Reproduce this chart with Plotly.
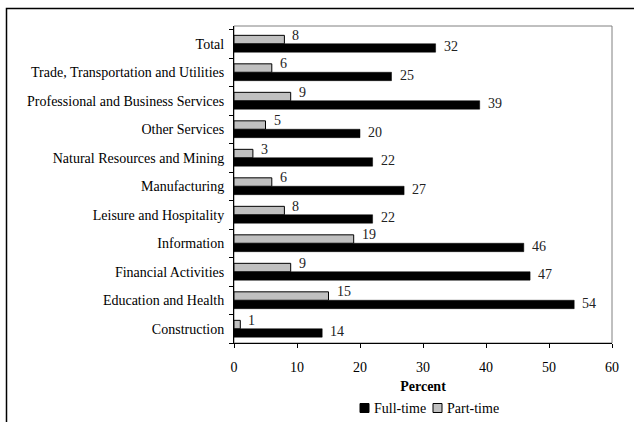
import plotly.graph_objects as go

# Industries, listed bottom to top as they appear on the axis
industries = [
    "Construction",
    "Education and Health",
    "Financial Activities",
    "Information",
    "Leisure and Hospitality",
    "Manufacturing",
    "Natural Resources and Mining",
    "Other Services",
    "Professional and Business Services",
    "Trade, Transportation and Utilities",
    "Total",
]
full_time = [14, 54, 47, 46, 22, 27, 22, 20, 39, 25, 32]
part_time = [1, 15, 9, 19, 8, 6, 3, 5, 9, 6, 8]
x_ticks = [0, 10, 20, 30, 40, 50, 60]

FONT = "'Liberation Serif', 'DejaVu Serif', serif"
W, H = 634, 422
L, R, T, B = 234, 22, 26, 79
plot_w = W - L - R
plot_h = H - T - B
BARGAP = 0.41

FT_COLOR = "#000000"
PT_COLOR = "#C0C0C0"


def px_x(p):
    return (p - L) / plot_w


def px_y(p):
    return (H - B - p) / plot_h


fig = go.Figure()
fig.add_trace(go.Bar(
    name="Full-time", y=industries, x=full_time, orientation="h",
    marker=dict(color=FT_COLOR, line=dict(color="#000000", width=0.5)),
    showlegend=False,
))
fig.add_trace(go.Bar(
    name="Part-time", y=industries, x=part_time, orientation="h",
    marker=dict(color=PT_COLOR, line=dict(color="#000000", width=1)),
    showlegend=False,
))

# value labels just past the end of each bar
band = plot_h / len(industries)
bar_px = band * (1 - BARGAP) / 2
annotations = []
for values, shift in ((full_time, -bar_px / 2 + 1.5), (part_time, bar_px / 2 + 4)):
    for cat, v in zip(industries, values):
        annotations.append(dict(
            x=v, y=cat, xref="x", yref="y", text=str(v), showarrow=False,
            xanchor="left", yanchor="middle", xshift=6, yshift=shift,
            font=dict(family=FONT, size=14, color="#222222")))

# outer chart frame: only its left and top edges fall inside the page
frame_path = "M {x0},{yb} L {x0},{yt} L {xr},{yt}".format(
    x0=px_x(6.5), yb=px_y(H + 10), yt=px_y(8.5), xr=px_x(W + 10))

shapes = [
    # plot-area frame (right and top edges show in grey)
    dict(type="rect", xref="paper", yref="paper", x0=0, x1=1, y0=0, y1=1,
         line=dict(color="#808080", width=1), layer="below"),
    dict(type="path", xref="paper", yref="paper", path=frame_path,
         line=dict(color="#000000", width=1.5), layer="above"),
]

# legend keys below the axis title
legend_items = [("Full-time", FT_COLOR, 360), ("Part-time", PT_COLOR, 433)]
legend_y = 408
key = 9
for label, color, x_left in legend_items:
    shapes.append(dict(
        type="rect", xref="paper", yref="paper",
        x0=px_x(x_left), x1=px_x(x_left + key),
        y0=px_y(legend_y + key / 2), y1=px_y(legend_y - key / 2),
        fillcolor=color, line=dict(color="#000000", width=1), layer="above"))
    annotations.append(dict(
        text=label, xref="paper", yref="paper",
        x=px_x(x_left + key + 2.5), y=px_y(legend_y),
        xanchor="left", yanchor="middle", showarrow=False,
        font=dict(family=FONT, size=14, color="#000000")))

fig.update_layout(
    width=W, height=H,
    margin=dict(l=L, r=R, t=T, b=B, pad=0),
    paper_bgcolor="white", plot_bgcolor="white",
    barmode="group", bargap=BARGAP, bargroupgap=0,
    font=dict(family=FONT, size=14, color="#000000"),
    showlegend=False,
    xaxis=dict(
        range=[0, 60], tickvals=x_ticks, ticks="outside", ticklen=4,
        tickcolor="#000000", showline=True, linecolor="#000000", linewidth=1,
        showgrid=False, zeroline=False, fixedrange=True,
        ticklabelstandoff=7,
        tickfont=dict(family=FONT, size=14, color="#000000"),
        title=dict(text="<b>Percent</b>", standoff=7,
                   font=dict(family=FONT, size=14, color="#000000")),
    ),
    yaxis=dict(
        type="category", categoryorder="array", categoryarray=industries,
        ticks="outside", tickson="boundaries", ticklen=4, tickcolor="#000000",
        showline=True, linecolor="#000000", linewidth=1, showgrid=False,
        ticklabelstandoff=6,
        tickfont=dict(family=FONT, size=14, color="#000000"),
    ),
    shapes=shapes,
    annotations=annotations,
)

fig.write_html("out.html")
